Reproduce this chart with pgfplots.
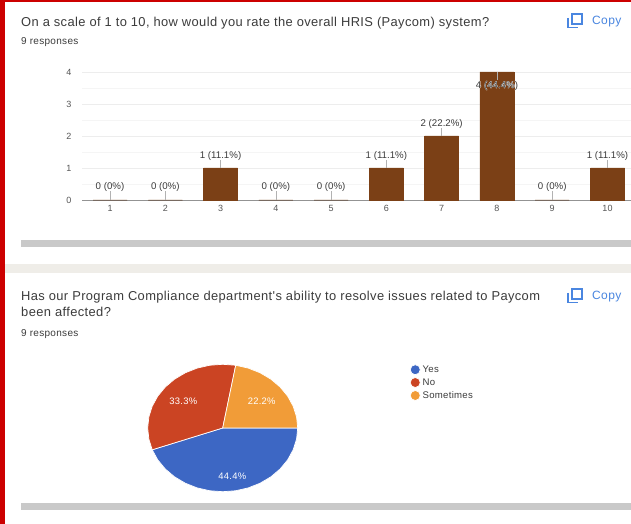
\documentclass[border=0pt]{standalone}
\usepackage{pgfplots}
\usepackage{pgfplotstable}
\usepackage{fontspec}
\pgfplotsset{compat=1.18}
\setmainfont{Liberation Sans}
\newfontfamily\spaced[LetterSpace=3]{Liberation Sans}
\newfontfamily\halofont[FakeBold=3]{Liberation Sans}
\definecolor{frame}{HTML}{CC0000}
\definecolor{band}{HTML}{EFEDE8}
\definecolor{scrollbar}{HTML}{C9C9C9}
\definecolor{bar}{HTML}{7B4016}
\definecolor{ink}{HTML}{3C3C3C}
\definecolor{soft}{HTML}{555555}
\definecolor{copyblue}{HTML}{4A86E0}
\definecolor{yes}{HTML}{3D67C4}
\definecolor{no}{HTML}{CB4423}
\definecolor{sometimes}{HTML}{F19C38}

% label set over a bar: dark text on a pale outline
\protected\def\halo#1{\rlap{\color{white}\halofont #1}#1}

% rating, responses, label, label offset (pt), leader length (axis units)
\pgfplotstableread{
x y label shift lead
1 0 {0 (0\%)} 13 0.28
2 0 {0 (0\%)} 13 0.28
3 1 {1 (11.1\%)} 12 0.25
4 0 {0 (0\%)} 13 0.28
5 0 {0 (0\%)} 13 0.28
6 1 {1 (11.1\%)} 12 0.25
7 2 {2 (22.2\%)} 12 0.25
8 4 {\halo{4 (44.4\%)}} -13.5 -0.25
9 0 {0 (0\%)} 13 0.28
10 1 {1 (11.1\%)} 12 0.25
}\ratings

\newcommand{\copybutton}[1]{%
  \begin{scope}[yshift=#1]
    \draw[copyblue,line width=1.6pt] (571.7,500) rectangle (581.7,510);
    \draw[copyblue,line width=1.6pt] (568,506) -- (568,496.5) -- (578,496.5);
    \node[anchor=base west,inner sep=0pt,text=copyblue,font=\fontsize{12}{14}\selectfont\spaced] at (592,499.6) {Copy};
  \end{scope}}

\begin{document}
\begin{tikzpicture}[x=1pt,y=1pt]
\useasboundingbox (0,0) rectangle (631,524);
\clip (0,0) rectangle (631,524);
\fill[white] (0,0) rectangle (631,524);
\fill[band] (5,251) rectangle (631,260);
\fill[scrollbar] (21,277) rectangle (631,284);
\fill[scrollbar] (21,14) rectangle (631,20.7);
\fill[frame] (0,0) rectangle (5,524);
\fill[frame] (0,522) rectangle (631,524);

% question headers
\begin{scope}[every node/.style={anchor=base west,inner sep=0pt,text=ink}]
\node[font=\fontsize{12.9}{15}\selectfont\spaced] at (21,497.6) {On a scale of 1 to 10, how would you rate the overall HRIS (Paycom) system?};
\node[font=\fontsize{10}{12}\selectfont\spaced] at (21,479) {9 responses};
\node[font=\fontsize{12.9}{15}\selectfont\spaced] at (21,223) {Has our Program Compliance department's ability to resolve issues related to Paycom};
\node[font=\fontsize{12.9}{15}\selectfont\spaced] at (21,207) {been affected?};
\node[font=\fontsize{10}{12}\selectfont\spaced] at (21,187.3) {9 responses};
\end{scope}
\copybutton{0pt}
\copybutton{-275pt}

% responses per rating
\begin{axis}[
  at={(82pt,324pt)}, anchor=south west,
  scale only axis, width=549pt, height=128pt,
  xmin=0.493, xmax=10.425, ymin=0, ymax=4,
  clip=false,
  axis x line*=bottom, axis y line*=left,
  axis line style={-},
  x axis line style={draw=gray!85,line width=0.8pt},
  y axis line style={draw=none},
  xtick={1,...,10}, ytick={0,...,4},
  minor y tick num=1,
  major tick length=0pt, minor tick length=0pt,
  ymajorgrids, yminorgrids,
  major grid style={draw=black!7,line width=0.6pt},
  minor grid style={draw=black!4,line width=0.6pt},
  /pgf/number format/assume math mode=true,
  tick label style={font=\fontsize{9}{10}\selectfont\spaced,text=soft},
  xticklabel style={yshift=-2pt},
  yticklabel style={xshift=-7pt},
]
\addplot[ybar,bar width=34pt,bar shift=0pt,fill=bar,draw=bar,line width=0.5pt]
  table[x=x,y=y] {\ratings};
% empty answers show as a darker stretch of the baseline
\addplot[ybar,bar width=34pt,bar shift=0pt,draw=black!55,line width=0.7pt]
  coordinates {(1,0) (2,0) (4,0) (5,0) (9,0)};
\addplot[draw=black!30,line width=0.7pt,-,
  quiver={u=0,v=\thisrow{lead}}] table[x=x,y=y] {\ratings};
\addplot[only marks,mark=none,
  point meta=explicit symbolic,
  visualization depends on={\thisrow{shift} \as \labshift},
  nodes near coords,
  nodes near coords style={anchor=center,yshift=\labshift pt,inner sep=0pt,
    font=\fontsize{9.7}{11}\selectfont,text=ink}]
  table[x=x,y=y,meta=label] {\ratings};
\end{axis}

% answer shares, outline points every ten degrees on the unit circle
\begin{axis}[
  at={(147.7pt,32.3pt)}, anchor=south west,
  scale only axis, width=150pt, height=127.4pt,
  xmin=-1, xmax=1, ymin=-1, ymax=1,
  hide axis, clip=false,
  legend style={at={(1.748,1.005)},anchor=north west,draw=none,fill=none,
    inner sep=0pt,outer sep=0pt,row sep=0.7pt,
    font=\fontsize{9.6}{11}\selectfont\spaced,text=ink,
    /tikz/every even column/.append style={column sep=2pt}},
  legend cell align=left,
  legend image code/.code={\fill[#1] (5pt,0pt) circle (5pt);},
]
\addplot[fill=yes,draw=white,line width=0.7pt] coordinates {
  (0,0) (1,0) (.9848,-.1736) (.9397,-.3420) (.8660,-.5) (.7660,-.6428)
  (.6428,-.7660) (.5,-.8660) (.3420,-.9397) (.1736,-.9848) (0,-1)
  (-.1736,-.9848) (-.3420,-.9397) (-.5,-.8660) (-.6428,-.7660)
  (-.7660,-.6428) (-.8660,-.5) (-.9397,-.3420)} -- cycle;
\addlegendentry{Yes}
\addplot[fill=no,draw=white,line width=0.7pt] coordinates {
  (0,0) (-.9397,-.3420) (-.9848,-.1736) (-1,0) (-.9848,.1736) (-.9397,.3420)
  (-.8660,.5) (-.7660,.6428) (-.6428,.7660) (-.5,.8660) (-.3420,.9397)
  (-.1736,.9848) (0,1) (.1736,.9848)} -- cycle;
\addlegendentry{No}
\addplot[fill=sometimes,draw=white,line width=0.7pt] coordinates {
  (0,0) (.1736,.9848) (.3420,.9397) (.5,.8660) (.6428,.7660) (.7660,.6428)
  (.8660,.5) (.9397,.3420) (.9848,.1736) (1,0)} -- cycle;
\addlegendentry{Sometimes}
\node[text=white,font=\fontsize{9.4}{11}\selectfont\spaced] at (axis cs:.128,-.754) {44.4\%};
\node[text=white,font=\fontsize{9.4}{11}\selectfont\spaced] at (axis cs:-.525,.424) {33.3\%};
\node[text=white,font=\fontsize{9.4}{11}\selectfont\spaced] at (axis cs:.52,.424) {22.2\%};
\end{axis}
\end{tikzpicture}
\end{document}
